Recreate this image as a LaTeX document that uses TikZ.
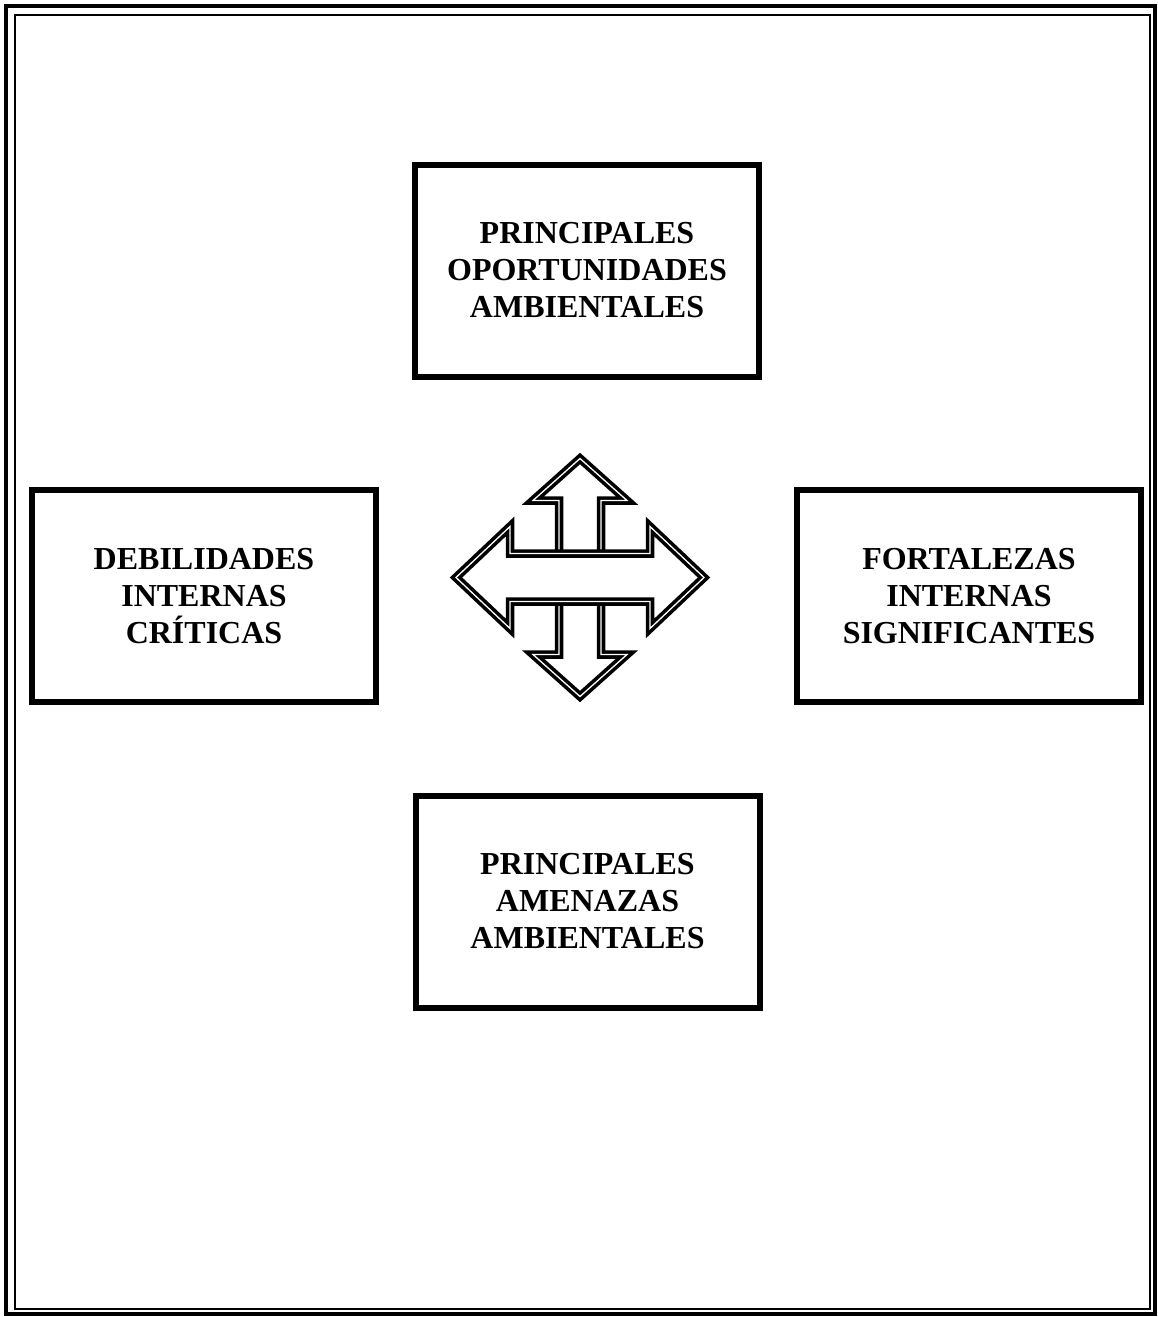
\documentclass[tikz,border=0pt]{standalone}
\usepackage{fontspec}
\setmainfont{Liberation Serif}
\begin{document}
\begin{tikzpicture}[x=1pt,y=-1pt,
  box/.style={draw=black, line width=6pt, fill=white, minimum width=344pt, minimum height=212pt,
    align=center, inner sep=0pt, font=\fontsize{32}{37}\selectfont\bfseries},
  arrowline/.style={draw=black, line width=3.6pt, double=white, double distance=1.3pt,
    fill=white, line join=miter, miter limit=10}]
\useasboundingbox (0,0) rectangle (1158,1317);
\fill[white] (0,0) rectangle (1158,1317);
% page border
\draw[line width=4pt] (6,6) rectangle (1155,1314);
\draw[line width=2.5pt] (15,15) rectangle (1150,1309);
% boxes
\node[box] (opp) at (587,270.5) {PRINCIPALES\\OPORTUNIDADES\\AMBIENTALES};
\node[box] (deb) at (204,596) {DEBILIDADES\\INTERNAS\\CRÍTICAS};
\node[box] (fort) at (969,596) {FORTALEZAS\\INTERNAS\\SIGNIFICANTES};
\node[box] (amen) at (587.5,901.5) {PRINCIPALES\\AMENAZAS\\AMBIENTALES};
% four-way arrow
\coordinate (c) at (580,577.5);
\begin{scope}[shift={(c)}]
\draw[arrowline] (0,-119) -- (47,-77) -- (21,-77) -- (21,77) -- (47,77) -- (0,119)
  -- (-47,77) -- (-21,77) -- (-21,-77) -- (-47,-77) -- cycle;
\draw[arrowline] (-124,0) -- (-70,-51) -- (-70,-24) -- (70,-24) -- (70,-51) -- (124,0)
  -- (70,51) -- (70,24) -- (-70,24) -- (-70,51) -- cycle;
\end{scope}
\end{tikzpicture}
\end{document}
